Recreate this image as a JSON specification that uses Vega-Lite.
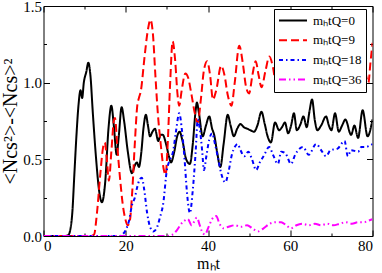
{
  "$schema": "https://vega.github.io/schema/vega-lite/v6.json",
  "width": 329,
  "height": 230,
  "autosize": {"type": "none"},
  "padding": {"left": 43.5, "top": 6, "right": 9.5, "bottom": 37},
  "config": {
    "view": {"stroke": "black", "strokeWidth": 1},
    "font": "Liberation Serif",
    "text": {"font": "Liberation Serif"},
    "axis": {"grid": false, "domain": false, "labelColor": "black", "tickColor": "black", "labelFont": "Liberation Serif", "titleFont": "Liberation Serif", "titleFontWeight": "normal", "titleColor": "black"},
    "legend": {"labelFont": "Liberation Serif"}
  },
  "datasets": {
    "curves": [
      {"s":"mₕtQ=0","t":0,"v":0},{"s":"mₕtQ=0","t":5,"v":0},{"s":"mₕtQ=0","t":6,"v":0.005},{"s":"mₕtQ=0","t":6.5,"v":0.04},{"s":"mₕtQ=0","t":7,"v":0.15},{"s":"mₕtQ=0","t":7.5,"v":0.4},{"s":"mₕtQ=0","t":8,"v":0.65},{"s":"mₕtQ=0","t":8.5,"v":0.85},{"s":"mₕtQ=0","t":9,"v":0.95},{"s":"mₕtQ=0","t":9.4,"v":0.9},{"s":"mₕtQ=0","t":9.8,"v":1.0},{"s":"mₕtQ=0","t":10.4,"v":1.07},{"s":"mₕtQ=0","t":10.9,"v":1.13},{"s":"mₕtQ=0","t":11.4,"v":1.05},{"s":"mₕtQ=0","t":12,"v":0.8},{"s":"mₕtQ=0","t":12.8,"v":0.5},{"s":"mₕtQ=0","t":13.5,"v":0.3},{"s":"mₕtQ=0","t":14.2,"v":0.22},{"s":"mₕtQ=0","t":15,"v":0.35},{"s":"mₕtQ=0","t":15.8,"v":0.7},{"s":"mₕtQ=0","t":16.5,"v":0.85},{"s":"mₕtQ=0","t":17.1,"v":0.72},{"s":"mₕtQ=0","t":17.8,"v":0.53},{"s":"mₕtQ=0","t":18.3,"v":0.65},{"s":"mₕtQ=0","t":19.0,"v":0.84},{"s":"mₕtQ=0","t":19.6,"v":0.75},{"s":"mₕtQ=0","t":20.5,"v":0.55},{"s":"mₕtQ=0","t":21.5,"v":0.41},{"s":"mₕtQ=0","t":22.2,"v":0.46},{"s":"mₕtQ=0","t":22.7,"v":0.48},{"s":"mₕtQ=0","t":23.2,"v":0.45},{"s":"mₕtQ=0","t":23.8,"v":0.55},{"s":"mₕtQ=0","t":24.3,"v":0.7},{"s":"mₕtQ=0","t":24.9,"v":0.79},{"s":"mₕtQ=0","t":25.4,"v":0.72},{"s":"mₕtQ=0","t":25.9,"v":0.65},{"s":"mₕtQ=0","t":26.5,"v":0.68},{"s":"mₕtQ=0","t":27.1,"v":0.7},{"s":"mₕtQ=0","t":27.9,"v":0.62},{"s":"mₕtQ=0","t":28.5,"v":0.66},{"s":"mₕtQ=0","t":29.0,"v":0.66},{"s":"mₕtQ=0","t":29.8,"v":0.6},{"s":"mₕtQ=0","t":30.5,"v":0.52},{"s":"mₕtQ=0","t":31.0,"v":0.48},{"s":"mₕtQ=0","t":31.8,"v":0.55},{"s":"mₕtQ=0","t":32.5,"v":0.65},{"s":"mₕtQ=0","t":33.1,"v":0.68},{"s":"mₕtQ=0","t":33.8,"v":0.62},{"s":"mₕtQ=0","t":34.7,"v":0.5},{"s":"mₕtQ=0","t":35.6,"v":0.47},{"s":"mₕtQ=0","t":36.3,"v":0.6},{"s":"mₕtQ=0","t":37.0,"v":0.82},{"s":"mₕtQ=0","t":37.3,"v":0.87},{"s":"mₕtQ=0","t":37.8,"v":0.8},{"s":"mₕtQ=0","t":38.7,"v":0.65},{"s":"mₕtQ=0","t":39.5,"v":0.72},{"s":"mₕtQ=0","t":40.3,"v":0.78},{"s":"mₕtQ=0","t":41.0,"v":0.7},{"s":"mₕtQ=0","t":41.5,"v":0.66},{"s":"mₕtQ=0","t":42.2,"v":0.55},{"s":"mₕtQ=0","t":43.0,"v":0.45},{"s":"mₕtQ=0","t":43.8,"v":0.6},{"s":"mₕtQ=0","t":44.8,"v":0.79},{"s":"mₕtQ=0","t":45.5,"v":0.72},{"s":"mₕtQ=0","t":46.3,"v":0.65},{"s":"mₕtQ=0","t":47.1,"v":0.7},{"s":"mₕtQ=0","t":47.9,"v":0.73},{"s":"mₕtQ=0","t":48.7,"v":0.71},{"s":"mₕtQ=0","t":49.5,"v":0.7},{"s":"mₕtQ=0","t":50.3,"v":0.69},{"s":"mₕtQ=0","t":51.2,"v":0.68},{"s":"mₕtQ=0","t":52.0,"v":0.72},{"s":"mₕtQ=0","t":53.0,"v":0.81},{"s":"mₕtQ=0","t":53.8,"v":0.73},{"s":"mₕtQ=0","t":54.5,"v":0.65},{"s":"mₕtQ=0","t":55.3,"v":0.61},{"s":"mₕtQ=0","t":56.3,"v":0.74},{"s":"mₕtQ=0","t":57.3,"v":0.69},{"s":"mₕtQ=0","t":58.0,"v":0.71},{"s":"mₕtQ=0","t":58.7,"v":0.74},{"s":"mₕtQ=0","t":59.5,"v":0.67},{"s":"mₕtQ=0","t":60.2,"v":0.72},{"s":"mₕtQ=0","t":60.9,"v":0.8},{"s":"mₕtQ=0","t":61.6,"v":0.69},{"s":"mₕtQ=0","t":62.5,"v":0.73},{"s":"mₕtQ=0","t":63.2,"v":0.78},{"s":"mₕtQ=0","t":64.0,"v":0.71},{"s":"mₕtQ=0","t":64.6,"v":0.8},{"s":"mₕtQ=0","t":65.3,"v":0.89},{"s":"mₕtQ=0","t":66.0,"v":0.75},{"s":"mₕtQ=0","t":66.6,"v":0.69},{"s":"mₕtQ=0","t":67.5,"v":0.72},{"s":"mₕtQ=0","t":68.7,"v":0.78},{"s":"mₕtQ=0","t":69.4,"v":0.72},{"s":"mₕtQ=0","t":70.0,"v":0.69},{"s":"mₕtQ=0","t":70.9,"v":0.8},{"s":"mₕtQ=0","t":71.8,"v":0.68},{"s":"mₕtQ=0","t":72.6,"v":0.72},{"s":"mₕtQ=0","t":73.4,"v":0.76},{"s":"mₕtQ=0","t":74.8,"v":0.66},{"s":"mₕtQ=0","t":75.6,"v":0.72},{"s":"mₕtQ=0","t":76.5,"v":0.64},{"s":"mₕtQ=0","t":77.6,"v":0.82},{"s":"mₕtQ=0","t":78.8,"v":0.65},{"s":"mₕtQ=0","t":80,"v":0.76},

      {"s":"mₕtQ=9","t":0,"v":0},{"s":"mₕtQ=9","t":11.5,"v":0},{"s":"mₕtQ=9","t":12.3,"v":0.01},{"s":"mₕtQ=9","t":13,"v":0.15},{"s":"mₕtQ=9","t":13.8,"v":0.4},{"s":"mₕtQ=9","t":14.5,"v":0.58},{"s":"mₕtQ=9","t":14.9,"v":0.61},{"s":"mₕtQ=9","t":15.4,"v":0.5},{"s":"mₕtQ=9","t":15.9,"v":0.36},{"s":"mₕtQ=9","t":16.5,"v":0.55},{"s":"mₕtQ=9","t":17.1,"v":0.75},{"s":"mₕtQ=9","t":17.4,"v":0.77},{"s":"mₕtQ=9","t":17.9,"v":0.6},{"s":"mₕtQ=9","t":18.6,"v":0.38},{"s":"mₕtQ=9","t":19.3,"v":0.2},{"s":"mₕtQ=9","t":19.9,"v":0.11},{"s":"mₕtQ=9","t":20.5,"v":0.07},{"s":"mₕtQ=9","t":21.0,"v":0.1},{"s":"mₕtQ=9","t":21.6,"v":0.3},{"s":"mₕtQ=9","t":22.2,"v":0.6},{"s":"mₕtQ=9","t":22.8,"v":0.85},{"s":"mₕtQ=9","t":23.2,"v":0.9},{"s":"mₕtQ=9","t":23.7,"v":0.95},{"s":"mₕtQ=9","t":24.5,"v":1.15},{"s":"mₕtQ=9","t":25.3,"v":1.33},{"s":"mₕtQ=9","t":26.0,"v":1.41},{"s":"mₕtQ=9","t":26.6,"v":1.32},{"s":"mₕtQ=9","t":27.2,"v":1.05},{"s":"mₕtQ=9","t":27.8,"v":0.8},{"s":"mₕtQ=9","t":28.5,"v":0.6},{"s":"mₕtQ=9","t":29.2,"v":0.44},{"s":"mₕtQ=9","t":29.7,"v":0.4},{"s":"mₕtQ=9","t":30.2,"v":0.6},{"s":"mₕtQ=9","t":30.8,"v":1.0},{"s":"mₕtQ=9","t":31.4,"v":1.27},{"s":"mₕtQ=9","t":32.0,"v":1.15},{"s":"mₕtQ=9","t":32.6,"v":0.92},{"s":"mₕtQ=9","t":33.0,"v":0.85},{"s":"mₕtQ=9","t":33.6,"v":0.95},{"s":"mₕtQ=9","t":34.5,"v":1.06},{"s":"mₕtQ=9","t":35.2,"v":1.03},{"s":"mₕtQ=9","t":36.0,"v":0.92},{"s":"mₕtQ=9","t":36.8,"v":0.8},{"s":"mₕtQ=9","t":37.5,"v":0.74},{"s":"mₕtQ=9","t":38.3,"v":0.9},{"s":"mₕtQ=9","t":39.0,"v":1.08},{"s":"mₕtQ=9","t":39.8,"v":1.14},{"s":"mₕtQ=9","t":40.5,"v":1.05},{"s":"mₕtQ=9","t":41.2,"v":0.89},{"s":"mₕtQ=9","t":42.0,"v":0.95},{"s":"mₕtQ=9","t":43.2,"v":1.11},{"s":"mₕtQ=9","t":44.0,"v":1.05},{"s":"mₕtQ=9","t":44.8,"v":0.92},{"s":"mₕtQ=9","t":45.7,"v":0.85},{"s":"mₕtQ=9","t":46.5,"v":1.0},{"s":"mₕtQ=9","t":47.6,"v":1.24},{"s":"mₕtQ=9","t":48.5,"v":1.12},{"s":"mₕtQ=9","t":49.2,"v":0.98},{"s":"mₕtQ=9","t":50.0,"v":0.93},{"s":"mₕtQ=9","t":50.8,"v":1.05},{"s":"mₕtQ=9","t":51.6,"v":1.14},{"s":"mₕtQ=9","t":52.3,"v":1.05},{"s":"mₕtQ=9","t":53.0,"v":0.97},{"s":"mₕtQ=9","t":54.0,"v":1.08},{"s":"mₕtQ=9","t":54.9,"v":1.17},{"s":"mₕtQ=9","t":55.8,"v":1.1},{"s":"mₕtQ=9","t":56.5,"v":1.0},{"s":"mₕtQ=9","t":58,"v":1.1},{"s":"mₕtQ=9","t":59.5,"v":1.2},{"s":"mₕtQ=9","t":61,"v":1.05},{"s":"mₕtQ=9","t":62.5,"v":1.15},{"s":"mₕtQ=9","t":64,"v":1.25},{"s":"mₕtQ=9","t":65.5,"v":1.05},{"s":"mₕtQ=9","t":67,"v":1.15},{"s":"mₕtQ=9","t":68.5,"v":1.25},{"s":"mₕtQ=9","t":70,"v":1.1},{"s":"mₕtQ=9","t":71.5,"v":1.2},{"s":"mₕtQ=9","t":73,"v":1.05},{"s":"mₕtQ=9","t":74.5,"v":1.2},{"s":"mₕtQ=9","t":76,"v":1.1},{"s":"mₕtQ=9","t":77.5,"v":1.15},{"s":"mₕtQ=9","t":79,"v":1.0},{"s":"mₕtQ=9","t":79.5,"v":1.13},{"s":"mₕtQ=9","t":80,"v":1.26},

      {"s":"mₕtQ=18","t":0,"v":0},{"s":"mₕtQ=18","t":18.5,"v":0},{"s":"mₕtQ=18","t":19.2,"v":0.01},{"s":"mₕtQ=18","t":20,"v":0.04},{"s":"mₕtQ=18","t":20.8,"v":0.1},{"s":"mₕtQ=18","t":21.5,"v":0.2},{"s":"mₕtQ=18","t":22.2,"v":0.25},{"s":"mₕtQ=18","t":22.8,"v":0.32},{"s":"mₕtQ=18","t":23.4,"v":0.37},{"s":"mₕtQ=18","t":23.9,"v":0.38},{"s":"mₕtQ=18","t":24.5,"v":0.3},{"s":"mₕtQ=18","t":25.2,"v":0.15},{"s":"mₕtQ=18","t":25.9,"v":0.06},{"s":"mₕtQ=18","t":26.7,"v":0.03},{"s":"mₕtQ=18","t":27.5,"v":0.05},{"s":"mₕtQ=18","t":28.3,"v":0.12},{"s":"mₕtQ=18","t":29.1,"v":0.21},{"s":"mₕtQ=18","t":30.0,"v":0.43},{"s":"mₕtQ=18","t":30.8,"v":0.5},{"s":"mₕtQ=18","t":31.5,"v":0.55},{"s":"mₕtQ=18","t":32.2,"v":0.68},{"s":"mₕtQ=18","t":33.0,"v":0.8},{"s":"mₕtQ=18","t":33.7,"v":0.68},{"s":"mₕtQ=18","t":34.3,"v":0.5},{"s":"mₕtQ=18","t":34.9,"v":0.28},{"s":"mₕtQ=18","t":35.6,"v":0.15},{"s":"mₕtQ=18","t":36.3,"v":0.3},{"s":"mₕtQ=18","t":37.0,"v":0.55},{"s":"mₕtQ=18","t":37.5,"v":0.76},{"s":"mₕtQ=18","t":38.0,"v":0.7},{"s":"mₕtQ=18","t":38.6,"v":0.55},{"s":"mₕtQ=18","t":39.0,"v":0.43},{"s":"mₕtQ=18","t":39.6,"v":0.52},{"s":"mₕtQ=18","t":40.3,"v":0.63},{"s":"mₕtQ=18","t":41.0,"v":0.67},{"s":"mₕtQ=18","t":41.7,"v":0.6},{"s":"mₕtQ=18","t":42.5,"v":0.5},{"s":"mₕtQ=18","t":43.2,"v":0.41},{"s":"mₕtQ=18","t":44.2,"v":0.35},{"s":"mₕtQ=18","t":45.0,"v":0.42},{"s":"mₕtQ=18","t":45.8,"v":0.53},{"s":"mₕtQ=18","t":46.5,"v":0.58},{"s":"mₕtQ=18","t":47.2,"v":0.6},{"s":"mₕtQ=18","t":47.9,"v":0.56},{"s":"mₕtQ=18","t":48.8,"v":0.52},{"s":"mₕtQ=18","t":49.8,"v":0.55},{"s":"mₕtQ=18","t":50.7,"v":0.5},{"s":"mₕtQ=18","t":51.7,"v":0.43},{"s":"mₕtQ=18","t":52.6,"v":0.48},{"s":"mₕtQ=18","t":53.5,"v":0.52},{"s":"mₕtQ=18","t":54.9,"v":0.58},{"s":"mₕtQ=18","t":55.8,"v":0.53},{"s":"mₕtQ=18","t":57.0,"v":0.47},{"s":"mₕtQ=18","t":57.8,"v":0.55},{"s":"mₕtQ=18","t":58.8,"v":0.54},{"s":"mₕtQ=18","t":60.2,"v":0.47},{"s":"mₕtQ=18","t":61.2,"v":0.53},{"s":"mₕtQ=18","t":63.1,"v":0.58},{"s":"mₕtQ=18","t":64.5,"v":0.53},{"s":"mₕtQ=18","t":66.3,"v":0.6},{"s":"mₕtQ=18","t":67.5,"v":0.56},{"s":"mₕtQ=18","t":68.7,"v":0.52},{"s":"mₕtQ=18","t":69.8,"v":0.56},{"s":"mₕtQ=18","t":71.5,"v":0.57},{"s":"mₕtQ=18","t":73.2,"v":0.62},{"s":"mₕtQ=18","t":74.0,"v":0.52},{"s":"mₕtQ=18","t":74.8,"v":0.56},{"s":"mₕtQ=18","t":76.5,"v":0.55},{"s":"mₕtQ=18","t":77.3,"v":0.58},{"s":"mₕtQ=18","t":78.2,"v":0.58},{"s":"mₕtQ=18","t":80,"v":0.6},

      {"s":"mₕtQ=36","t":0,"v":0},{"s":"mₕtQ=36","t":30,"v":0},{"s":"mₕtQ=36","t":31.5,"v":0.01},{"s":"mₕtQ=36","t":32.5,"v":0.04},{"s":"mₕtQ=36","t":33.5,"v":0.08},{"s":"mₕtQ=36","t":34.3,"v":0.1},{"s":"mₕtQ=36","t":35.1,"v":0.11},{"s":"mₕtQ=36","t":36.0,"v":0.07},{"s":"mₕtQ=36","t":37.3,"v":0.12},{"s":"mₕtQ=36","t":38.0,"v":0.07},{"s":"mₕtQ=36","t":38.7,"v":0.02},{"s":"mₕtQ=36","t":39.3,"v":0.01},{"s":"mₕtQ=36","t":40.0,"v":0.05},{"s":"mₕtQ=36","t":41.0,"v":0.11},{"s":"mₕtQ=36","t":42.0,"v":0.13},{"s":"mₕtQ=36","t":42.8,"v":0.08},{"s":"mₕtQ=36","t":43.8,"v":0.05},{"s":"mₕtQ=36","t":45.0,"v":0.06},{"s":"mₕtQ=36","t":46.5,"v":0.07},{"s":"mₕtQ=36","t":48.0,"v":0.06},{"s":"mₕtQ=36","t":49.5,"v":0.07},{"s":"mₕtQ=36","t":50.8,"v":0.05},{"s":"mₕtQ=36","t":52.1,"v":0.03},{"s":"mₕtQ=36","t":53.5,"v":0.05},{"s":"mₕtQ=36","t":55.0,"v":0.08},{"s":"mₕtQ=36","t":56.5,"v":0.09},{"s":"mₕtQ=36","t":57.8,"v":0.09},{"s":"mₕtQ=36","t":59.0,"v":0.07},{"s":"mₕtQ=36","t":60.2,"v":0.05},{"s":"mₕtQ=36","t":61.5,"v":0.07},{"s":"mₕtQ=36","t":63.0,"v":0.08},{"s":"mₕtQ=36","t":64.5,"v":0.07},{"s":"mₕtQ=36","t":66,"v":0.08},{"s":"mₕtQ=36","t":67.5,"v":0.07},{"s":"mₕtQ=36","t":69,"v":0.08},{"s":"mₕtQ=36","t":70.5,"v":0.07},{"s":"mₕtQ=36","t":72,"v":0.08},{"s":"mₕtQ=36","t":73.5,"v":0.09},{"s":"mₕtQ=36","t":75,"v":0.08},{"s":"mₕtQ=36","t":76.5,"v":0.09},{"s":"mₕtQ=36","t":78,"v":0.09},{"s":"mₕtQ=36","t":79,"v":0.1},{"s":"mₕtQ=36","t":80,"v":0.11}
    ],
    "anchor": [{"t": 0, "v": 0}]
  },
  "resolve": {"axis": {"x": "independent", "y": "independent"}},
  "layer": [
    {
      "data": {"name": "curves"},
      "mark": {"type": "line", "strokeWidth": 2, "interpolate": "monotone", "clip": true},
      "encoding": {
        "x": {"field": "t", "type": "quantitative", "scale": {"domain": [0, 80], "nice": false},
          "axis": {"orient": "bottom", "values": [0, 20, 40, 60, 80], "ticks": false, "labelPadding": 2, "labelFont": "Liberation Serif", "labelFontSize": 15, "title": "mₕt", "titleFont": "Liberation Serif", "titleFontSize": 16, "titlePadding": 2}},
        "y": {"field": "v", "type": "quantitative", "scale": {"domain": [0, 1.5], "nice": false},
          "axis": {"orient": "left", "values": [0, 0.5, 1, 1.5], "ticks": false, "labelPadding": 2, "labelFont": "Liberation Serif", "labelFontSize": 15, "labelFlush": false, "labelBound": false, "title": "<Ncs²>-<Ncs>²", "titleFont": "Liberation Serif", "titleFontSize": 20, "titlePadding": 2}},
        "color": {"field": "s", "type": "nominal", "sort": null,
          "scale": {"domain": ["mₕtQ=0", "mₕtQ=9", "mₕtQ=18", "mₕtQ=36"], "range": ["#000000", "#ff0000", "#0000ff", "#ff00ff"]},
          "legend": {"title": null, "orient": "none", "legendX": 230.5, "legendY": 3, "strokeColor": "black", "fillColor": "white", "padding": 4, "symbolType": "stroke", "symbolSize": 784, "symbolStrokeWidth": 2, "labelFont": "Liberation Serif", "labelFontSize": 13, "labelOffset": 5, "clipHeight": 15, "rowPadding": 4.7, "labelColor": "black", "cornerRadius": 0}},
        "strokeDash": {"field": "s", "type": "nominal", "sort": null,
          "scale": {"domain": ["mₕtQ=0", "mₕtQ=9", "mₕtQ=18", "mₕtQ=36"], "range": [[1, 0], [8, 4], [4, 3, 1.5, 3], [7, 3, 1.5, 3, 1.5, 3]]},
          "legend": {"title": null, "orient": "none", "legendX": 230.5, "legendY": 3, "strokeColor": "black", "fillColor": "white", "padding": 4, "symbolType": "stroke", "symbolSize": 784, "symbolStrokeWidth": 2, "labelFont": "Liberation Serif", "labelFontSize": 13, "labelOffset": 5, "clipHeight": 15, "rowPadding": 4.7, "labelColor": "black", "cornerRadius": 0}}
      }
    },
    {
      "data": {"name": "anchor"},
      "mark": {"type": "point", "opacity": 0},
      "encoding": {
        "x": {"field": "t", "type": "quantitative",
          "axis": {"orient": "bottom", "values": [0, 10, 20, 30, 40, 50, 60, 70, 80], "labels": false, "title": null, "tickSize": {"condition": {"test": "datum.value % 20 === 0", "value": -6}, "value": -3}}},
        "y": {"field": "v", "type": "quantitative",
          "axis": {"orient": "left", "values": [0, 0.25, 0.5, 0.75, 1, 1.25, 1.5], "labels": false, "title": null, "tickSize": {"condition": {"test": "datum.value % 0.5 === 0", "value": -6}, "value": -3}}}
      }
    },
    {
      "data": {"name": "anchor"},
      "mark": {"type": "point", "opacity": 0},
      "encoding": {
        "x": {"field": "t", "type": "quantitative",
          "axis": {"orient": "top", "values": [0, 10, 20, 30, 40, 50, 60, 70, 80], "labels": false, "title": null, "tickSize": {"condition": {"test": "datum.value % 20 === 0", "value": -6}, "value": -3}}},
        "y": {"field": "v", "type": "quantitative",
          "axis": {"orient": "right", "values": [0, 0.25, 0.5, 0.75, 1, 1.25, 1.5], "labels": false, "title": null, "tickSize": {"condition": {"test": "datum.value % 0.5 === 0", "value": -6}, "value": -3}}}
      }
    }
  ]
}
